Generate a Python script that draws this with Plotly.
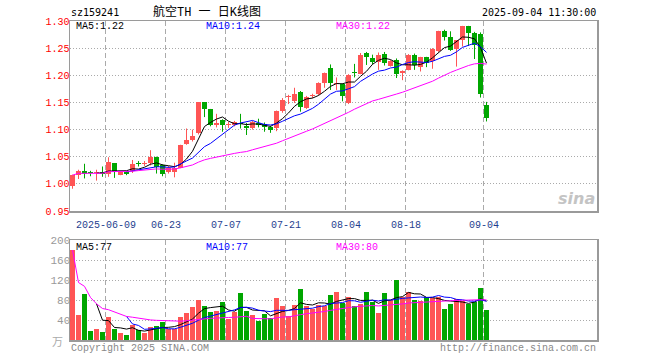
import numpy as np
import pandas as pd
import plotly.graph_objects as go

# ---------------- data ----------------
opens = [0.996, 1.016, 1.023, 1.021, 1.020, 1.022, 1.018, 1.038, 1.017, 1.022,
         1.024, 1.038, 1.036, 1.039, 1.050, 1.035, 1.021, 1.022, 1.030, 1.073,
         1.081, 1.093, 1.150, 1.138, 1.109, 1.117, 1.109, 1.108, 1.113, 1.107,
         1.103, 1.113, 1.111, 1.104, 1.103, 1.135, 1.160, 1.153, 1.170, 1.140,
         1.162, 1.165, 1.185, 1.214, 1.184, 1.184, 1.149, 1.205, 1.203, 1.241,
         1.231, 1.224, 1.239, 1.218, 1.229, 1.205, 1.210, 1.238, 1.216, 1.233,
         1.226, 1.244, 1.281, 1.271, 1.248, 1.265, 1.290, 1.278, 1.276, 1.146]
highs = [1.017, 1.026, 1.037, 1.024, 1.026, 1.032, 1.049, 1.038, 1.023, 1.024,
         1.044, 1.042, 1.042, 1.062, 1.050, 1.036, 1.033, 1.039, 1.072, 1.102,
         1.100, 1.150, 1.150, 1.138, 1.129, 1.119, 1.114, 1.116, 1.129, 1.112,
         1.116, 1.120, 1.113, 1.107, 1.135, 1.158, 1.164, 1.177, 1.171, 1.162,
         1.166, 1.187, 1.205, 1.220, 1.196, 1.185, 1.202, 1.221, 1.241, 1.243,
         1.238, 1.242, 1.243, 1.228, 1.231, 1.209, 1.239, 1.240, 1.234, 1.234,
         1.250, 1.282, 1.284, 1.281, 1.265, 1.291, 1.291, 1.280, 1.279, 1.151]
lows = [0.991, 1.009, 1.010, 1.014, 1.006, 1.013, 1.013, 1.011, 1.016, 1.016,
        1.020, 1.032, 1.033, 1.034, 1.019, 1.014, 1.019, 1.012, 1.029, 1.072,
        1.078, 1.091, 1.123, 1.106, 1.104, 1.096, 1.103, 1.106, 1.102, 1.090,
        1.100, 1.104, 1.096, 1.094, 1.097, 1.131, 1.147, 1.149, 1.133, 1.138,
        1.158, 1.163, 1.177, 1.173, 1.173, 1.152, 1.147, 1.196, 1.202, 1.219,
        1.220, 1.210, 1.218, 1.216, 1.195, 1.191, 1.209, 1.210, 1.207, 1.215,
        1.212, 1.243, 1.264, 1.245, 1.216, 1.253, 1.254, 1.230, 1.159, 1.115]
closes = [1.016, 1.023, 1.019, 1.020, 1.021, 1.018, 1.040, 1.022, 1.022, 1.019,
          1.036, 1.037, 1.039, 1.050, 1.031, 1.018, 1.029, 1.030, 1.071, 1.081,
          1.089, 1.150, 1.137, 1.109, 1.112, 1.108, 1.111, 1.114, 1.110, 1.103,
          1.114, 1.109, 1.104, 1.099, 1.134, 1.155, 1.161, 1.165, 1.141, 1.160,
          1.163, 1.185, 1.204, 1.186, 1.186, 1.161, 1.201, 1.204, 1.238, 1.233,
          1.225, 1.238, 1.223, 1.226, 1.202, 1.208, 1.238, 1.219, 1.233, 1.223,
          1.248, 1.281, 1.270, 1.247, 1.265, 1.290, 1.278, 1.256, 1.166, 1.121]
volumes = [180, 50, 92, 18, 22, 16, 46, 23, 14, 10,
           30, 20, 15, 26, 28, 36, 22, 22, 46, 54,
           66, 80, 68, 56, 58, 76, 42, 56, 94, 58,
           50, 38, 52, 44, 84, 68, 48, 70, 102, 68,
           62, 70, 68, 90, 96, 74, 86, 68, 72, 96,
           76, 54, 94, 80, 120, 86, 96, 80, 78, 86,
           84, 86, 62, 72, 82, 78, 72, 76, 104, 60]

holidays = ["2025-06-02"]
tick_dates = ["2025-06-09", "2025-06-23", "2025-07-07", "2025-07-21",
              "2025-08-04", "2025-08-18", "2025-09-04"]
tick_text = ["2025-06-09", "06-23", "07-07", "07-21", "08-04", "08-18", "09-04"]
price_ticks = [0.95, 1.00, 1.05, 1.10, 1.15, 1.20, 1.25, 1.30]
vol_ticks = [40, 80, 120, 160, 200]

# ---------------- derived ----------------
dates = [d.strftime("%Y-%m-%d") for d in pd.bdate_range("2025-05-29", "2025-09-04")
         if d.strftime("%Y-%m-%d") not in holidays]
n = len(closes)
x = np.arange(n)
o = np.array(opens); c = np.array(closes); h = np.array(highs); l = np.array(lows)
up = c >= o
RED = "#ff5555"
GREEN = "#00a600"
colors = [RED if u else GREEN for u in up]

cs = pd.Series(closes)
ma5 = cs.rolling(5).mean()
ma10 = cs.rolling(10).mean()
ma30 = cs.rolling(30, min_periods=1).mean()
vs = pd.Series(volumes, dtype=float)
vma5 = vs.rolling(5).mean()
vma10 = vs.rolling(10).mean()
vma30 = vs.rolling(30, min_periods=1).mean()

W, H = 660, 360
L_PX, R_PX = 70, 597
def px_x(p): return p / W
def px_y(p): return 1 - p / H

tick_pos = [dates.index(d) - 0.42 for d in tick_dates]
xrange_ = [-0.417, 87.417]

fig = go.Figure()

# wicks
for col, mask in ((RED, up), (GREEN, ~up)):
    wx, wy = [], []
    for i in x[mask]:
        wx += [i, i, None]
        wy += [l[i], h[i], None]
    fig.add_trace(go.Scatter(x=wx, y=wy, mode="lines", line=dict(color=col, width=1),
                             hoverinfo="skip", showlegend=False, xaxis="x", yaxis="y"))

# bodies
body_base = np.minimum(o, c)
body_h = np.maximum(np.abs(c - o), 0.0012)
fig.add_trace(go.Bar(x=x, y=body_h, base=body_base, width=0.83,
                     marker=dict(color=colors, line=dict(width=0)),
                     showlegend=False, xaxis="x", yaxis="y"))

for s, col in ((ma5, "#000000"), (ma10, "#0000ff"), (ma30, "#ff00ff")):
    fig.add_trace(go.Scatter(x=x, y=s, mode="lines", line=dict(color=col, width=1),
                             showlegend=False, xaxis="x", yaxis="y"))

# volume
fig.add_trace(go.Bar(x=x, y=volumes, width=0.85,
                     marker=dict(color=colors, line=dict(width=0)),
                     showlegend=False, xaxis="x2", yaxis="y2"))
for s, col in ((vma5, "#000000"), (vma10, "#0000ff"), (vma30, "#ff00ff")):
    fig.add_trace(go.Scatter(x=x, y=s, mode="lines", line=dict(color=col, width=1),
                             showlegend=False, xaxis="x2", yaxis="y2"))

MONO = "Liberation Mono"
axis_common = dict(showline=True, mirror=True, linecolor="#9a9a9a", linewidth=1.5,
                   zeroline=False, ticks="", fixedrange=True, automargin=False)

fig.update_layout(
    width=W, height=H, margin=dict(l=0, r=0, t=0, b=0, autoexpand=False),
    paper_bgcolor="white", plot_bgcolor="white",
    barmode="overlay", bargap=0,
    xaxis=dict(domain=[px_x(L_PX), px_x(R_PX)], range=xrange_, anchor="y",
               tickvals=tick_pos, ticktext=tick_text, showgrid=True,
               gridcolor="#aaaaaa", gridwidth=1, griddash="5px,3px",
               tickfont=dict(family=MONO, size=10, color="#1f3f8f"),
               ticklabelstandoff=3, **axis_common),
    yaxis=dict(domain=[px_y(211), px_y(21)], range=[0.95, 1.30], anchor="x",
               tickvals=price_ticks, tickformat=".2f", showgrid=True,
               gridcolor="#aaaaaa", gridwidth=1, griddash="1px,2px",
               tickfont=dict(family=MONO, size=10, color="#ff0000"),
               ticklabelstandoff=-3, **axis_common),
    xaxis2=dict(domain=[px_x(L_PX), px_x(R_PX)], range=xrange_, anchor="y2",
                tickvals=tick_pos, showticklabels=False, showgrid=True,
                gridcolor="#aaaaaa", gridwidth=1, griddash="5px,3px", **axis_common),
    yaxis2=dict(domain=[px_y(340), px_y(240)], range=[0, 200], anchor="x2",
                tickvals=vol_ticks, showgrid=True,
                gridcolor="#aaaaaa", gridwidth=1, griddash="1px,2px",
                tickfont=dict(family=MONO, size=11, color="#999999"),
                ticklabelstandoff=-4, **axis_common),
)

def ann(text, xp, yp, color="#000", size=10, family=MONO, xanchor="left", **kw):
    fig.add_annotation(text=text, x=px_x(xp), y=px_y(yp), xref="paper", yref="paper",
                       xanchor=xanchor, yanchor="middle", showarrow=False,
                       font=dict(family=family, size=size, color=color), **kw)

ann("sz159241", 69, 13, family="DejaVu Sans Mono")
ann("航空TH 一 日K线图", 207, 12, size=12, family="Liberation Mono, Noto Sans CJK SC",
    xanchor="center")
ann("2025-09-04 11:30:00", 598, 13, family="DejaVu Sans Mono", xanchor="right")

ann("MA5:1.22", 74, 27, color="#000000")
ann("MA10:1.24", 204, 27, color="#0000ff")
ann("MA30:1.22", 334, 27, color="#ff00ff")

ann("MA5:77", 74, 247, color="#000000")
ann("MA10:77", 204, 247, color="#0000ff")
ann("MA30:80", 334, 247, color="#ff00ff")

ann("万", 50, 341, color="#aaaaaa", size=11, family="Noto Sans CJK SC")
ann("Copyright 2025 SINA.COM", 69, 348, color="#888888")
ann("http://finance.sina.com.cn", 598, 348, color="#888888", xanchor="right")
ann("<i><b>sina</b></i>", 597, 198, color="#c4c4c4", size=16, family="DejaVu Sans",
    xanchor="right")

fig.write_html("out.html", config={"displayModeBar": False, "staticPlot": True},
               post_script="document.body.style.margin='0';document.body.style.padding='0';"
                           "document.documentElement.style.overflow='hidden';")
